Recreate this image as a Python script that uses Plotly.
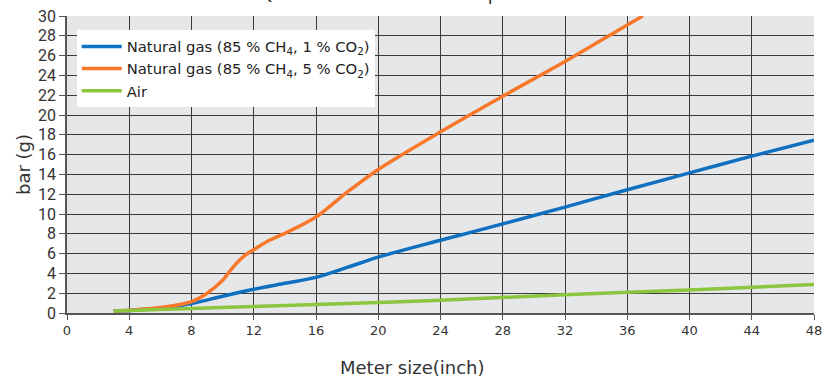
import plotly.graph_objects as go

# Data
ng1_x = [3, 4, 6, 8, 10, 12, 14, 16, 18, 20, 24, 28, 32, 36, 40, 44, 48]
ng1_y = [0.2, 0.25, 0.47, 0.95, 1.7, 2.4, 3.0, 3.6, 4.6, 5.65, 7.35, 9.0, 10.7, 12.45, 14.15, 15.85, 17.45]

ng5_x = [3, 4, 6, 8, 9, 10, 10.5, 11, 11.5, 12, 13, 14, 16, 18, 20, 24, 28, 32, 36, 37]
ng5_y = [0.2, 0.28, 0.55, 1.15, 2.0, 3.3, 4.3, 5.2, 5.9, 6.4, 7.35, 8.05, 9.7, 12.2, 14.5, 18.3, 21.9, 25.4, 29.1, 30.0]

air_x = [3, 8, 12, 16, 20, 24, 32, 40, 48]
air_y = [0.2, 0.45, 0.65, 0.85, 1.05, 1.3, 1.85, 2.32, 2.87]

names = [
    "Natural gas (85 % CH<sub>4</sub>, 1 % CO<sub>2</sub>)",
    "Natural gas (85 % CH<sub>4</sub>, 5 % CO<sub>2</sub>)",
    "Air",
]
colors = ["#1070c0", "#f7782a", "#8cc63f"]

x_ticks = list(range(0, 49, 4))
y_ticks = list(range(0, 31, 2))

fig = go.Figure()
for xs, ys, nm, c in [(ng1_x, ng1_y, names[0], colors[0]),
                      (ng5_x, ng5_y, names[1], colors[1]),
                      (air_x, air_y, names[2], colors[2])]:
    fig.add_trace(go.Scatter(x=xs, y=ys, mode="lines", name=nm,
                             line=dict(color=c, width=3.5, shape="spline", smoothing=0.8)))

fig.update_layout(
    width=831, height=378,
    margin=dict(l=67, r=17, t=16, b=65, autoexpand=False),
    paper_bgcolor="white",
    plot_bgcolor="#e6e7e9",
    showlegend=True,
    legend=dict(x=0.013, y=0.952, xanchor="left", yanchor="top",
                bgcolor="white", borderwidth=0,
                font=dict(family="DejaVu Sans", size=14.8, color="#222"),
                itemwidth=40, tracegroupgap=3),
    xaxis=dict(range=[0, 48], tickvals=x_ticks, showgrid=True, gridcolor="#3a3a3a", gridwidth=1,
               showline=True, linecolor="#555", linewidth=1.5, ticks="outside", ticklen=5,
               tickcolor="#555", zeroline=False, automargin=False,
               tickfont=dict(family="DejaVu Sans", size=13, color="#333")),
    yaxis=dict(range=[0, 30], tickvals=y_ticks, showgrid=True, gridcolor="#3a3a3a", gridwidth=1,
               showline=True, linecolor="#555", linewidth=1.5, ticks="outside", ticklen=6,
               tickcolor="#555", zeroline=False, automargin=False,
               tickfont=dict(family="Liberation Sans Narrow, Roboto", size=16, color="#333"),
               title=dict(text="bar (g)", font=dict(family="DejaVu Sans", size=18, color="#333"),
                          standoff=3)),
    annotations=[
        dict(text="Meter size(inch)", xref="paper", yref="paper", x=0.463, y=-0.14,
             xanchor="center", yanchor="top", showarrow=False,
             font=dict(family="DejaVu Sans", size=18, color="#333")),
        dict(text="Q Gas vs. minimum inlet pressure", xref="paper", yref="paper", x=0.463, y=1.032,
             xanchor="center", yanchor="bottom", showarrow=False,
             font=dict(family="DejaVu Sans", size=18, color="#333")),
    ],
)

fig.write_html("out.html", config={"displayModeBar": False},
               post_script="document.body.style.margin='0px';")
